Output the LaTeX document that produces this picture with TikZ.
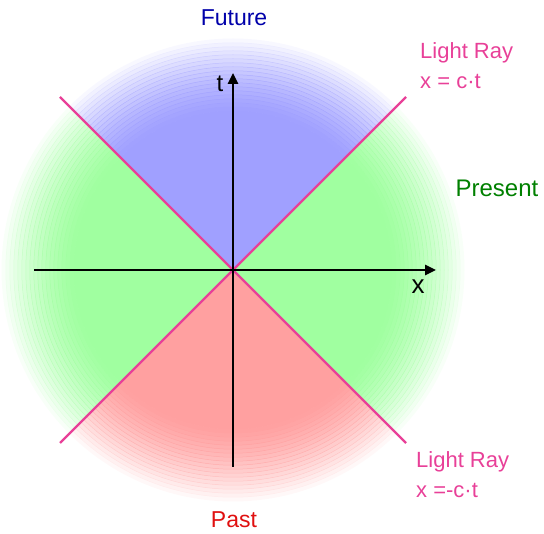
\documentclass[tikz,border=0pt]{standalone}
\usepackage{fontspec}
\setmainfont{Liberation Sans}
\usetikzlibrary{arrows.meta}
\definecolor{futbg}{RGB}{160,160,255}
\definecolor{prebg}{RGB}{160,255,160}
\definecolor{pastbg}{RGB}{255,160,160}
\definecolor{raycol}{RGB}{232,64,152}
\definecolor{futtxt}{RGB}{0,0,170}
\definecolor{pretxt}{RGB}{0,128,0}
\definecolor{pasttxt}{RGB}{224,16,16}
\begin{document}
\begin{tikzpicture}[x=1pt,y=-1pt,
  lbl/.style={font=\fontsize{23}{28}\selectfont, inner sep=0pt},
  raylbl/.style={font=\fontsize{22}{28}\selectfont, inner sep=0pt, text=raycol, anchor=base west},
  rayline/.style={draw=raycol, line width=2.2pt},
  axis/.style={draw=black, line width=2.6pt, -{Triangle[length=11pt,width=10pt]}}]
\useasboundingbox (0,0) rectangle (544,534);
\coordinate (O) at (233,270);
% faded sectors
\foreach \col/\ax/\ay/\bx/\by in {futbg/-300/-300/300/-300, pastbg/-300/300/300/300, prebg/-300/-300/-300/300, prebg/300/-300/300/300} {
  \begin{scope}
    \clip (O) -- +(\ax,\ay) -- +(\bx,\by) -- cycle;
    \fill[\col] (O) circle (156);
    \foreach \r in {155,159,...,227} {
      \pgfmathsetmacro\op{1-((\r-155)/76)^1.4}
      \pgfmathsetmacro\rr{\r+4.5}
      \fill[\col, opacity=\op, even odd rule] (O) circle (\rr) (O) circle (\r);
    }
  \end{scope}
}
% light rays
\coordinate (UL) at (60,97);
\coordinate (LR) at (406,443);
\coordinate (UR) at (406,97);
\coordinate (LL) at (60,443);
\draw[rayline] (UL) -- (LR);
\draw[rayline] (LL) -- (UR);
% axes
\coordinate (XL) at (34,270);
\coordinate (XR) at (436,270);
\coordinate (TB) at (233,467);
\coordinate (TT) at (233,73);
\draw[axis] (XL) -- (XR);
\draw[axis] (TB) -- (TT);
\node[font=\fontsize{24}{28}\selectfont, inner sep=0pt] (tl) at (220,84) {t};
\node[font=\fontsize{26}{28}\selectfont, inner sep=0pt] (xl) at (418,287) {x};
% labels
\node[lbl, text=futtxt] (fut) at (234,18) {Future};
\node[lbl, text=pretxt, font=\fontsize{24}{28}\selectfont] (pre) at (497,188) {Present};
\node[lbl, text=pasttxt] (past) at (234,520) {Past};
\node[raylbl] (lr1) at (420,59) {Light Ray};
\node[raylbl] (eq1) at (420,89) {x = c·t};
\node[raylbl] (lr2) at (416,468) {Light Ray};
\node[raylbl] (eq2) at (416,498) {x =-c·t};
\end{tikzpicture}
\end{document}
